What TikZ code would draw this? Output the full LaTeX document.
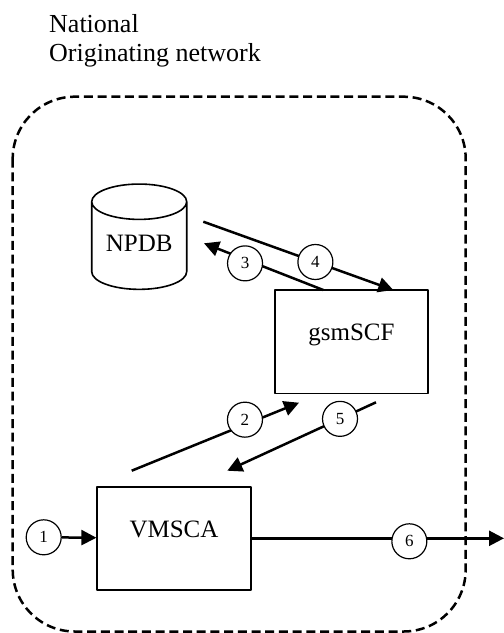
\documentclass[tikz,border=0pt]{standalone}
\usepackage{fontspec}
\setmainfont{Liberation Serif}
\usetikzlibrary{arrows.meta,shapes.geometric}
\begin{document}
\begin{tikzpicture}[x=1pt, y=-1pt, line join=round, >={Triangle[length=15pt,width=15pt]},
        lbl/.style={font=\fontsize{25}{29}\selectfont},
        box/.style={lbl, draw, line width=1.7pt, minimum width=153.5pt, minimum height=103.3pt, inner sep=0pt, text depth=19pt},
        num/.style={circle, draw, line width=1.2pt, fill=white, inner sep=0pt, minimum size=35pt, font=\fontsize{17}{17}\selectfont},
        arr/.style={->, line width=2.5pt}]
    \useasboundingbox (0,0) rectangle (504,633);
    \node[lbl, font=\fontsize{26}{29}\selectfont, anchor=north west, align=left, inner sep=0pt] (title) at (49,14) {National\\Originating network};
    \draw[line width=2.5pt, dash pattern=on 9pt off 4.7pt, rounded corners=62pt] (12.7,96.7) rectangle (465.7,631.5);
    \node[lbl, cylinder, shape border rotate=90, draw, line width=1.6pt, aspect=0.53, minimum width=95pt, minimum height=105.3pt, inner sep=0pt, text depth=4.6pt, anchor=shape center] (npdb) at (139.2,236.7) {NPDB};
    \node[box] (gsm) at (351.5,341.7) {gsmSCF};
    \node[box] (vmsca) at (174,538.3) {VMSCA};
    % free ends of the arrows
    \coordinate (s4) at (203.3,221.7); \coordinate (e4) at (393.3,290);
    \coordinate (s3) at (323.3,290);   \coordinate (e3) at (204,243.3);
    \coordinate (s2) at (131.7,470.7); \coordinate (e2) at (299,402.7);
    \coordinate (s5) at (376,402.3);   \coordinate (e5) at (227.3,470.7);
    \coordinate (out) at (504,538.3);
    \draw[arr] (s4) -- node[num, pos=0.59] (c4) {4} (e4);
    \draw[arr] (s3) -- node[num, pos=0.656, yshift=-4pt] (c3) {3} (e3);
    \draw[arr] (s2) -- node[num, pos=0.677, yshift=5pt] (c2) {2} (e2);
    \draw[arr] (s5) -- node[num, pos=0.242] (c5) {5} (e5);
    \node[num] (c1) at (43.7,537.3) {1};
    \draw[arr] (c1) -- (vmsca);
    \draw[arr] (vmsca.east) -- node[num, pos=0.625, yshift=-3pt] (c6) {6} (out);
\end{tikzpicture}
\end{document}
